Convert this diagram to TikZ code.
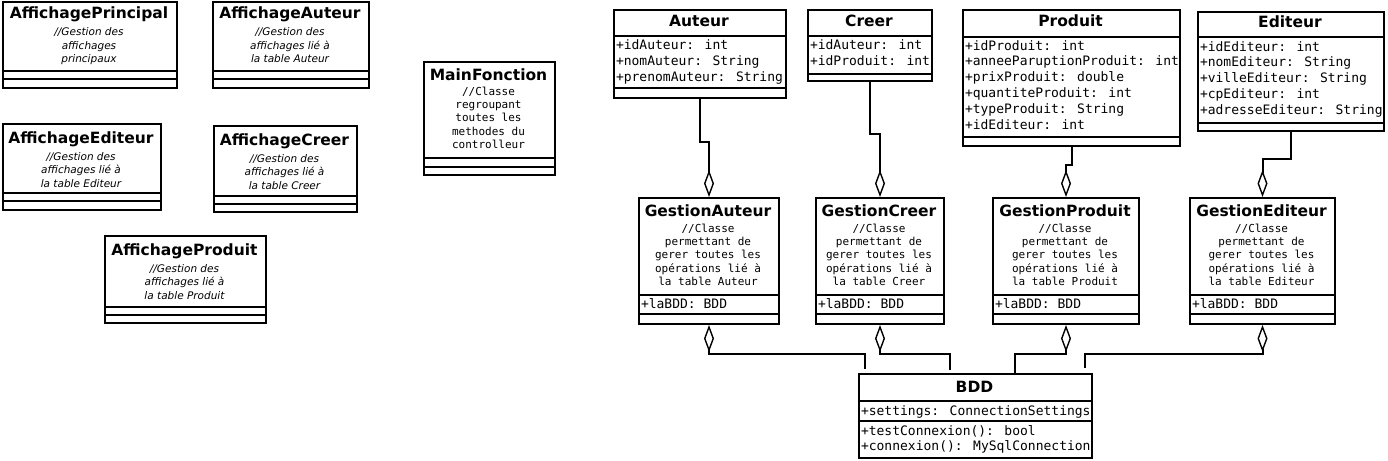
\documentclass[tikz,border=0pt]{standalone}
\usepackage{fontspec}
\setmainfont{DejaVu Sans}
\newfontfamily\codefont{DejaVu Sans Mono}
\usetikzlibrary{arrows.meta,calc}

% multi-line nodes sit on the baseline of their last line
\tikzset{
  classbox/.style={draw, inner sep=0pt, anchor=north west},
  classname/.style={anchor=base, inner sep=0pt, font=\fontsize{15.5}{18}\selectfont\bfseries},
  note/.style={anchor=base, inner sep=0pt, align=center, font=\fontsize{10.5}{13.5}\selectfont\itshape},
  codenote/.style={anchor=base, inner sep=0pt, align=center, font=\fontsize{11}{13.4}\codefont},
  members/.style={anchor=base west, inner sep=0pt, align=left, font=\fontsize{13}{15.8}\codefont},
  aggend/.style={-{Diamond[open, length=27pt, width=10pt, line width=1.4pt]}},
  aggstart/.style={{Diamond[open, length=27pt, width=10pt, line width=1.4pt]}-}
}

\begin{document}
\begin{tikzpicture}[x=1pt, y=-1pt, line width=2pt]
      \useasboundingbox (0,0) rectangle (1388,460);

      % affichage classes
      \node[classbox, minimum width=174pt, minimum height=86pt] (affprincipal) at (2,1) {};
      \node[classname] (affprincipal-name) at (89,19) {AffichagePrincipal};
      \node[note] (affprincipal-note) at (89,63) {//Gestion des\\affichages\\principaux};
      \draw (2,71)--(176,71);
      \draw (2,79)--(176,79);

      \node[classbox, minimum width=156pt, minimum height=86pt] (affauteur) at (212,1) {};
      \node[classname] (affauteur-name) at (290,19) {AffichageAuteur};
      \node[note] (affauteur-note) at (290,63) {//Gestion des\\affichages lié à\\la table Auteur};
      \draw (212,71)--(368,71);
      \draw (212,79)--(368,79);

      \node[classbox, minimum width=158pt, minimum height=86pt] (affediteur) at (2,123) {};
      \node[classname] (affediteur-name) at (81,143) {AffichageEditeur};
      \node[note] (affediteur-note) at (81,187) {//Gestion des\\affichages lié à\\la table Editeur};
      \draw (2,193)--(160,193);
      \draw (2,201)--(160,201);

      \node[classbox, minimum width=143pt, minimum height=86pt] (affcreer) at (213,125) {};
      \node[classname] (affcreer-name) at (284.5,145) {AffichageCreer};
      \node[note] (affcreer-note) at (284.5,189) {//Gestion des\\affichages lié à\\la table Creer};
      \draw (213,196)--(356,196);
      \draw (213,204)--(356,204);

      \node[classbox, minimum width=161pt, minimum height=87pt] (affproduit) at (104,235) {};
      \node[classname] (affproduit-name) at (184.5,255) {AffichageProduit};
      \node[note] (affproduit-note) at (184.5,299) {//Gestion des\\affichages lié à\\la table Produit};
      \draw (104,307)--(265,307);
      \draw (104,315)--(265,315);

      \node[classbox, minimum width=131pt, minimum height=113pt] (mainfonction) at (423,61) {};
      \node[classname] (mainfonction-name) at (488.5,80) {MainFonction};
      \node[codenote] (mainfonction-note) at (488.5,148.6) {//Classe\\regroupant\\toutes les\\methodes du\\controlleur};
      \draw (423,158)--(554,158);
      \draw (423,167)--(554,167);

      % tables
      \node[classbox, minimum width=172pt, minimum height=88pt] (auteur) at (613,9) {};
      \node[classname] (auteur-name) at (699,27) {Auteur};
      \draw (613,36)--(785,36);
      \node[members] (auteur-attr) at (615,81.6) {+idAuteur: int\\+nomAuteur: String\\+prenomAuteur: String};
      \draw (613,88)--(785,88);

      \node[classbox, minimum width=124pt, minimum height=71pt] (creer) at (807,9) {};
      \node[classname] (creer-name) at (869,27) {Creer};
      \draw (807,36)--(931,36);
      \node[members] (creer-attr) at (809,65.8) {+idAuteur: int\\+idProduit: int};
      \draw (807,74)--(931,74);

      \node[classbox, minimum width=217pt, minimum height=136pt] (produit) at (962,9) {};
      \node[classname] (produit-name) at (1070.5,27) {Produit};
      \draw (962,37)--(1179,37);
      \node[members] (produit-attr) at (964,129) {+idProduit: int\\+anneeParuptionProduit: int\\+prixProduit: double\\+quantiteProduit: int\\+typeProduit: String\\+idEditeur: int};
      \draw (962,137)--(1179,137);

      \node[classbox, minimum width=186pt, minimum height=119pt] (editeur) at (1197,11) {};
      \node[classname] (editeur-name) at (1290,28) {Editeur};
      \draw (1197,37)--(1383,37);
      \node[members] (editeur-attr) at (1199,114.2) {+idEditeur: int\\+nomEditeur: String\\+villeEditeur: String\\+cpEditeur: int\\+adresseEditeur: String};
      \draw (1197,123)--(1383,123);

      % gestion classes
      \node[classbox, minimum width=140pt, minimum height=126pt] (gauteur) at (638,197) {};
      \node[classname] (gauteur-name) at (708,216) {GestionAuteur};
      \node[codenote] (gauteur-note) at (708,285.6) {//Classe\\permettant de\\gerer toutes les\\opérations lié à\\la table Auteur};
      \draw (638,295)--(778,295);
      \node[members] (gauteur-attr) at (640,308) {+laBDD: BDD};
      \draw (638,314)--(778,314);

      \node[classbox, minimum width=128pt, minimum height=126pt] (gcreer) at (815,197) {};
      \node[classname] (gcreer-name) at (879,216) {GestionCreer};
      \node[codenote] (gcreer-note) at (879,285.6) {//Classe\\permettant de\\gerer toutes les\\opérations lié à\\la table Creer};
      \draw (815,295)--(943,295);
      \node[members] (gcreer-attr) at (817,308) {+laBDD: BDD};
      \draw (815,314)--(943,314);

      \node[classbox, minimum width=146pt, minimum height=126pt] (gproduit) at (992,197) {};
      \node[classname] (gproduit-name) at (1065,216) {GestionProduit};
      \node[codenote] (gproduit-note) at (1065,285.6) {//Classe\\permettant de\\gerer toutes les\\opérations lié à\\la table Produit};
      \draw (992,295)--(1138,295);
      \node[members] (gproduit-attr) at (994,308) {+laBDD: BDD};
      \draw (992,314)--(1138,314);

      \node[classbox, minimum width=145pt, minimum height=126pt] (gediteur) at (1189,197) {};
      \node[classname] (gediteur-name) at (1261.5,216) {GestionEditeur};
      \node[codenote] (gediteur-note) at (1261.5,285.6) {//Classe\\permettant de\\gerer toutes les\\opérations lié à\\la table Editeur};
      \draw (1189,295)--(1334,295);
      \node[members] (gediteur-attr) at (1191,308) {+laBDD: BDD};
      \draw (1189,314)--(1334,314);

      % database
      \node[classbox, minimum width=233pt, minimum height=84pt] (bdd) at (858,373) {};
      \node[classname] (bdd-name) at (974.5,392) {BDD};
      \draw (858,401)--(1091,401);
      \node[members] (bdd-attr) at (860,415) {+settings: ConnectionSettings};
      \draw (858,421)--(1091,421);
      \node[members] (bdd-ops) at (860,450.8) {+testConnexion(): bool\\+connexion(): MySqlConnection};

      % tables -> gestion
      \draw[aggend] (auteur.south) -- ++(0,43) -| (gauteur.north);
      \draw[aggend] (creer.south) -- ++(0,52) -| (gcreer.north);
      \draw[aggend] (produit.south) -- ++(0,18) -| (gproduit.north);
      \draw[aggend] (editeur.south) -- ++(0,27) -| (gediteur.north);

      % gestion -> bdd
      \draw[aggstart] (gauteur.south) -- ++(0,29) -| ($(bdd.north west)+(7,-4)$);
      \draw[aggstart] (gcreer.south) -- ++(0,29) -| ($(bdd.north west)+(92,-3)$);
      \draw[aggstart] (gproduit.south) -- ++(0,29) -| ($(bdd.north west)+(157,0)$);
      \draw[aggstart] (gediteur.south) -- ++(0,29) -| ($(bdd.north west)+(227,-5)$);
\end{tikzpicture}
\end{document}
